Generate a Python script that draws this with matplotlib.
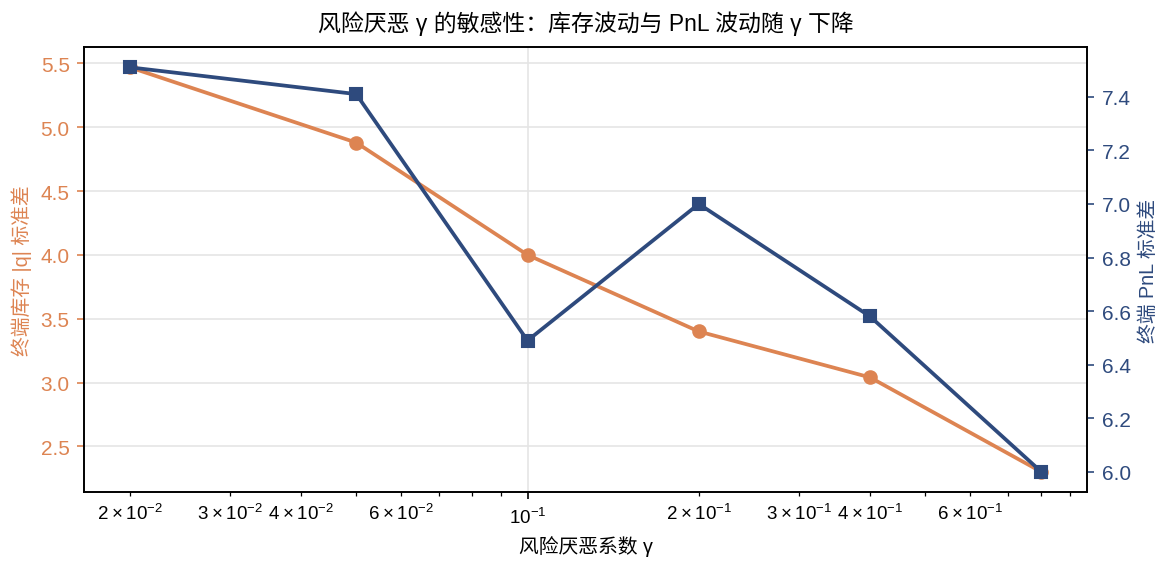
import matplotlib
matplotlib.use('Agg')
import matplotlib.pyplot as plt
from matplotlib.ticker import FuncFormatter
import numpy as np

plt.rcParams['font.family'] = ['Liberation Sans', 'Noto Sans CJK SC', 'DejaVu Sans']
plt.rcParams['axes.unicode_minus'] = False

gamma = [0.02, 0.05, 0.1, 0.2, 0.4, 0.8]
inv_std = [5.47, 4.88, 4.00, 3.40, 3.04, 2.30]
pnl_std = [7.51, 7.41, 6.49, 7.00, 6.58, 6.00]

c_inv = '#dd8452'
c_pnl = '#2e4a7d'


def minor_fmt(v, pos):
    e = int(np.floor(np.log10(v) + 1e-9))
    m = int(round(v / 10 ** e))
    if m in (2, 3, 4, 6):
        return r'$\mathdefault{%d\times10^{%d}}$' % (m, e)
    return ''


fig, ax = plt.subplots(figsize=(7.8, 3.813), dpi=150)
ax.plot(gamma, inv_std, marker='o', color=c_inv, lw=1.8, ms=6)
ax.set_xscale('log')
ax.xaxis.set_minor_formatter(FuncFormatter(minor_fmt))
ax.set_xlabel('风险厌恶系数 γ', fontsize=9.5)
ax.set_ylabel('终端库存 |q| 标准差', color=c_inv, fontsize=9.5)
ax.tick_params(axis='y', colors=c_inv, labelsize=10)
ax.tick_params(axis='x', which='both', labelsize=9)
ax.grid(True, which='major', color='#e5e5e5', lw=0.8)
ax.set_axisbelow(True)

ax2 = ax.twinx()
ax2.plot(gamma, pnl_std, marker='s', color=c_pnl, lw=1.8, ms=6)
ax2.set_ylabel('终端 PnL 标准差', color=c_pnl, fontsize=9.5)
ax2.tick_params(axis='y', colors=c_pnl, labelsize=10)

for a in (ax, ax2):
    for s in a.spines.values():
        s.set_color('black')

ax.set_title('风险厌恶 γ 的敏感性：库存波动与 PnL 波动随 γ 下降', fontsize=11, pad=8)
fig.subplots_adjust(left=0.072, right=0.929, top=0.916, bottom=0.138)
fig.savefig('out.png', dpi=150)
